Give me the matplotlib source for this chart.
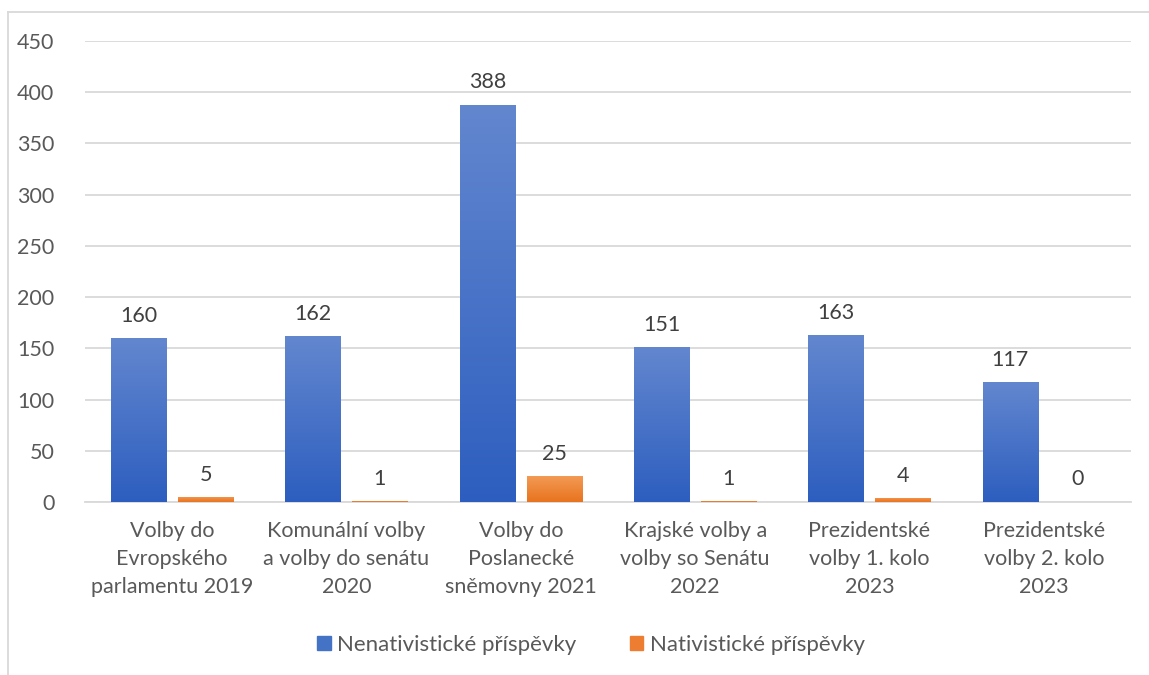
import numpy as np
import matplotlib.pyplot as plt
from matplotlib.patches import Rectangle
from matplotlib.lines import Line2D

categories = ['Volby do\nEvropského\nparlamentu 2019',
              'Komunální volby\na volby do senátu\n2020',
              'Volby do\nPoslanecké\nsněmovny 2021',
              'Krajské volby a\nvolby so Senátu\n2022',
              'Prezidentské\nvolby 1. kolo\n2023',
              'Prezidentské\nvolby 2. kolo\n2023']
nenativ = [160, 162, 388, 151, 163, 117]
nativ = [5, 1, 25, 1, 4, 0]
series_names = ['Nenativistické příspěvky', 'Nativistické příspěvky']

plt.rcParams['font.family'] = ['Lato', 'DejaVu Sans']
txt = '#595959'
fs = 15.5

fig = plt.figure(figsize=(11.49, 6.75), dpi=100)
ax = fig.add_axes([85 / 1149, 1 - 502 / 675, (1131 - 85) / 1149, (502 - 41) / 675])

x = np.arange(len(categories))
w = 0.316
off = 0.192


def grad_bars(xs, vals, top, bottom):
    cmap = plt.matplotlib.colors.LinearSegmentedColormap.from_list('g', [bottom, top])
    grad = np.linspace(0, 1, 256).reshape(-1, 1)
    bars = ax.bar(xs, vals, w, color='none', zorder=3)
    for b in bars:
        h = b.get_height()
        if h <= 0:
            continue
        im = ax.imshow(grad, cmap=cmap, aspect='auto', origin='lower',
                       extent=[b.get_x(), b.get_x() + b.get_width(), 0, h], zorder=3)
        im.set_clip_path(b)
    return bars


b1 = grad_bars(x - off, nenativ, '#6387cf', '#2d5ebf')
b2 = grad_bars(x + off, nativ, '#f39a55', '#e8731e')

for xi, v in zip(x - off, nenativ):
    ax.text(xi, v + 12, str(v), ha='center', va='bottom', fontsize=fs, color='#404040')
for xi, v in zip(x + off, nativ):
    ax.text(xi, max(v, 1) + 12, str(v), ha='center', va='bottom', fontsize=fs, color='#404040')

ax.set_xlim(-0.5, len(categories) - 0.5)
ax.set_ylim(0, 450)
ax.set_yticks(range(0, 451, 50))
ax.yaxis.grid(True, color='#d9d9d9', linewidth=1.3, zorder=0)
ax.set_axisbelow(True)
for s in ['top', 'right', 'left']:
    ax.spines[s].set_visible(False)
ax.spines['bottom'].set_color('#d9d9d9')
ax.spines['bottom'].set_linewidth(1.3)
ax.tick_params(axis='both', length=0, labelsize=fs, labelcolor=txt)
ax.tick_params(axis='y', pad=22)
ax.set_xticks(x)
ax.set_xticklabels(categories, linespacing=1.5)
ax.tick_params(axis='x', pad=14)
ax.set_xlim(-0.5, len(categories) - 0.5)

handles = [Rectangle((0, 0), 1, 1, color='#4472c4'), Rectangle((0, 0), 1, 1, color='#ed7d31')]
fig.legend(handles, series_names, loc='center', bbox_to_anchor=(591 / 1149, 1 - 645 / 675), ncol=2,
           frameon=False, fontsize=16, labelcolor=txt, handlelength=0.6, handleheight=0.6,
           handletextpad=0.3, columnspacing=2.4)

# chart border
fig.add_artist(Line2D([8 / 1149, 8 / 1149], [0, 1 - 12 / 675], color='#d9d9d9', linewidth=1.3))
fig.add_artist(Line2D([8 / 1149, 1], [1 - 12 / 675, 1 - 12 / 675], color='#d9d9d9', linewidth=1.3))

fig.savefig('out.png', dpi=100)
